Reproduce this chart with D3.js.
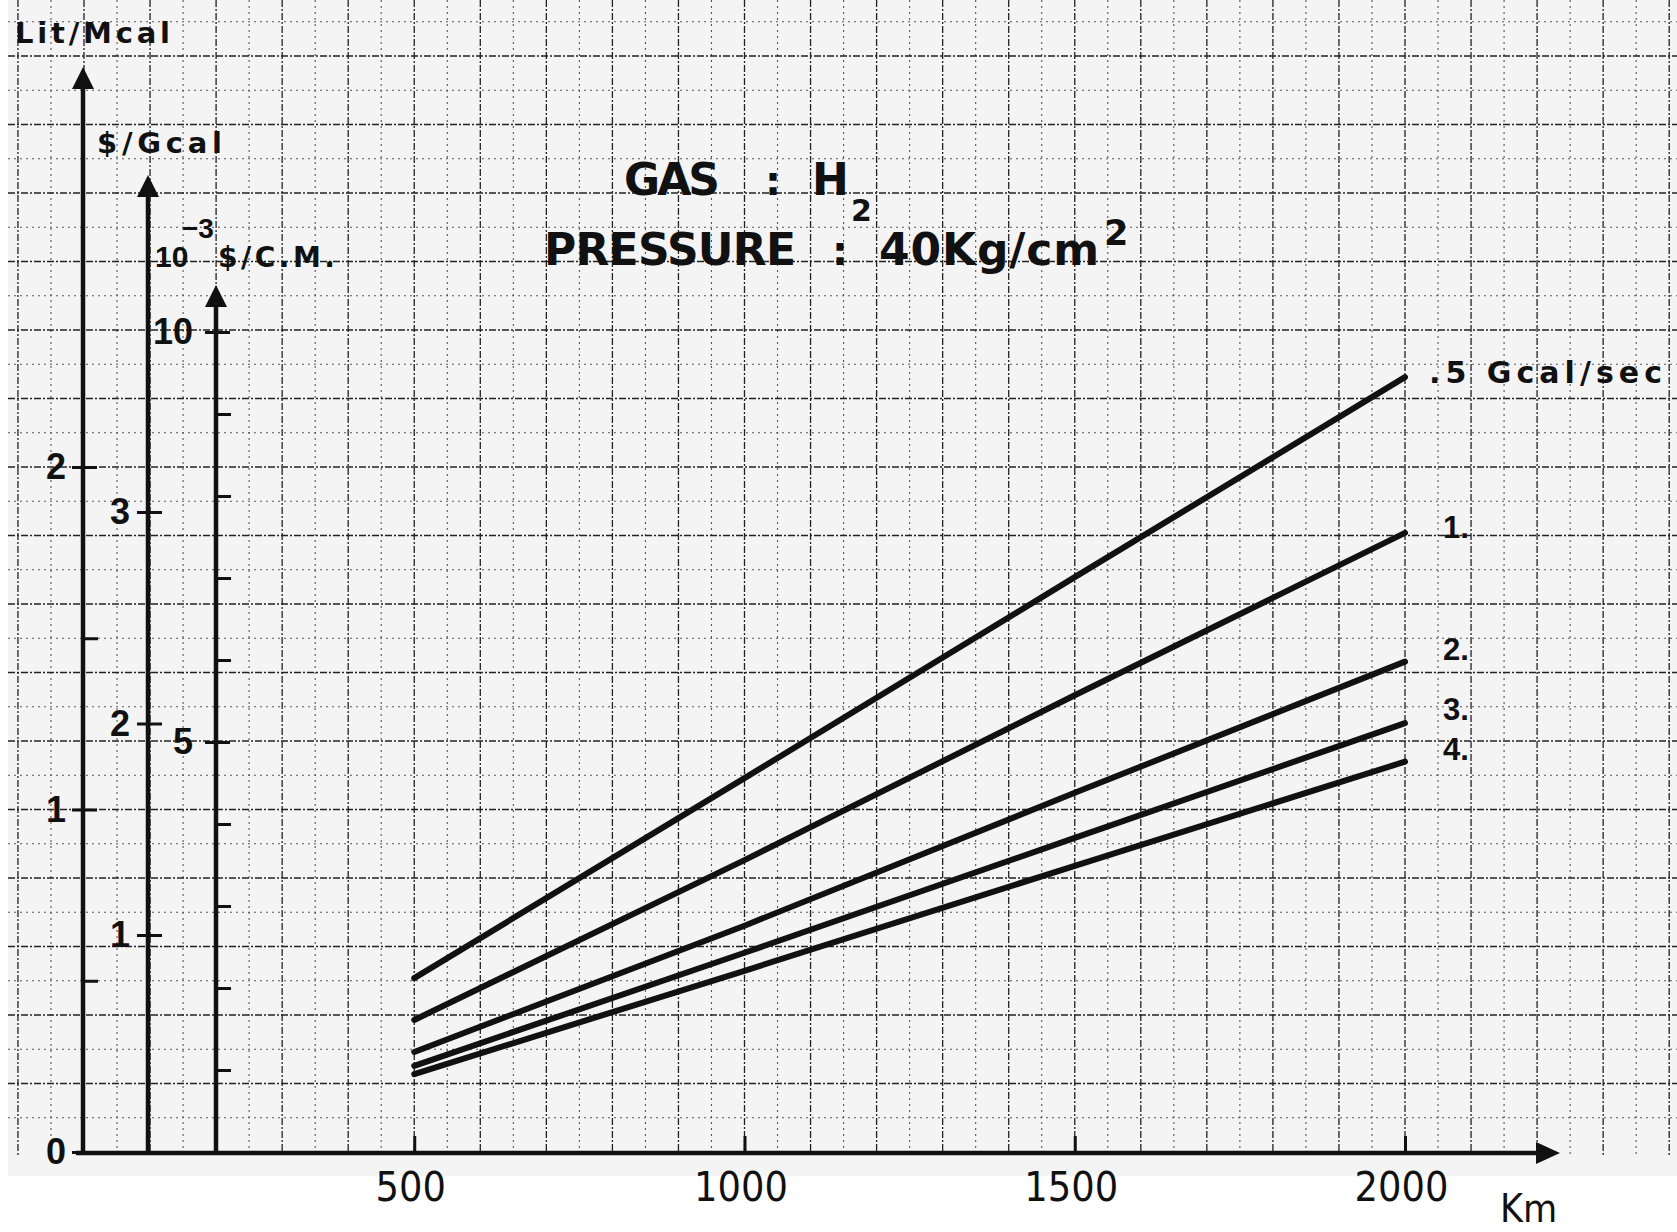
<!DOCTYPE html>
<html>
<head>
<meta charset="utf-8">
<script src="https://cdn.jsdelivr.net/npm/d3@7"></script>
<style>
body { margin: 0; background: #fff; }
svg { display: block; }
text { font-family: "DejaVu Sans", sans-serif; fill: #111; }
</style>
</head>
<body>
<div id="chart"></div>
<script>
// pipeline length, km
var distKm = [500, 1000, 1500, 2000];
// transport cost in 10^-3 $/C.M., one list per flow (Gcal/sec)
var flowNames = [".5 Gcal/sec", "1.", "2.", "3.", "4."];
var cost05 = [2.12, 4.56, 7.01, 9.45];
var cost1 = [1.61, 3.56, 5.57, 7.55];
var cost2 = [1.22, 2.76, 4.38, 5.98];
var cost3 = [1.05, 2.43, 3.83, 5.23];
var cost4 = [0.95, 2.21, 3.49, 4.76];
// tick values
var kmTicks = [500, 1000, 1500, 2000];
var litTicks = [0, 1, 2];
var litHalf = [0.5, 1.5];
var gcalTicks = [1, 2, 3];
var cmTicks = [5, 10];
var cmMinor = [1, 2, 3, 4, 6, 7, 8, 9];

var W = 1677, H = 1232;
var svg = d3.select("#chart").append("svg").attr("width", W).attr("height", H);

// scales
var x = d3.scaleLinear().domain([0, 2000]).range([84, 1405]);
var yLit = d3.scaleLinear().domain([0, 2]).range([1152, 467]);
var yGcal = d3.scaleLinear().domain([1, 3]).range([935, 512]);
var yCM = d3.scaleLinear().domain([0, 10]).range([1152, 332]);

// graph paper background
svg.append("rect").attr("x", 8).attr("y", 0).attr("width", W - 8).attr("height", 1176)
  .attr("fill", "#f4f4f4");

var grid = svg.append("g");
d3.range(-100, 2401, 50).forEach(function(k) {
  var major = k % 100 == 0;
  grid.append("line")
    .attr("x1", x(k)).attr("x2", x(k)).attr("y1", 0).attr("y2", 1156)
    .attr("stroke", major ? "#222" : "#555")
    .attr("stroke-width", major ? 1.3 : 1.1)
    .attr("stroke-dasharray", major ? "7 2 2 2" : "2 4");
});
d3.range(1, 34).forEach(function(i) {
  var v = i / 10;
  var major = i % 2 == 0;
  grid.append("line")
    .attr("x1", 8).attr("x2", W).attr("y1", yLit(v)).attr("y2", yLit(v))
    .attr("stroke", major ? "#222" : "#555")
    .attr("stroke-width", major ? 1.3 : 1.1)
    .attr("stroke-dasharray", major ? "7 2 2 2" : "2 4");
});

// cost curves
var series = [cost05, cost1, cost2, cost3, cost4];
var line = d3.line()
  .x(function(d, i) { return x(distKm[i]); })
  .y(function(d) { return yCM(d); });

svg.append("g").selectAll("path")
  .data(series)
  .enter()
  .append("path")
  .attr("d", line)
  .attr("fill", "none")
  .attr("stroke", "#111")
  .attr("stroke-width", 6)
  .attr("stroke-linecap", "round");

// curve labels
var labelDy = [6, 5, -2, -3, -2];
svg.append("g").selectAll("text")
  .data(series)
  .enter()
  .append("text")
  .attr("x", function(d, i) { return i == 0 ? 1429 : 1443; })
  .attr("y", function(d, i) { return yCM(d[d.length - 1]) + labelDy[i]; })
  .attr("font-size", function(d, i) { return i == 0 ? 30 : 31; })
  .attr("font-weight", "bold")
  .style("font-family", function(d, i) { return i == 0 ? "'DejaVu Sans', sans-serif" : "'Liberation Sans', Arial, sans-serif"; })
  .attr("textLength", function(d, i) { return i == 0 ? 233 : null; })
  .attr("lengthAdjust", "spacing")
  .text(function(d, i) { return flowNames[i]; });

// x axis
var xAxis = svg.append("g").attr("transform", "translate(0,1152)")
  .call(d3.axisBottom(x).tickValues(kmTicks).tickSize(-16).tickFormat(d3.format("d")));
xAxis.select(".domain").remove();
xAxis.selectAll(".tick line").attr("stroke", "#111").attr("stroke-width", 3);
xAxis.selectAll(".tick text")
  .attr("y", 49).attr("dy", null).attr("x", -4)
  .attr("font-size", 41).attr("fill", "#111")
  .style("font-family", "'DejaVu Sans Condensed', 'DejaVu Sans', sans-serif");

svg.append("line").attr("x1", 76).attr("x2", 1540).attr("y1", 1153).attr("y2", 1153)
  .attr("stroke", "#111").attr("stroke-width", 4.5);
svg.append("path").attr("d", "M1536,1142 L1560,1153 L1536,1164 Z").attr("fill", "#111");
svg.append("text").attr("x", 1500).attr("y", 1222).attr("font-size", 39)
  .style("font-family", "'DejaVu Sans Condensed', 'DejaVu Sans', sans-serif").text("Km");

// vertical axes: Lit/Mcal, $/Gcal, 10^-3 $/C.M.
function vAxis(xPos, top, scale, major, minor, pad) {
  var g = svg.append("g").attr("transform", "translate(" + xPos + ",0)");
  var a = g.append("g").call(d3.axisLeft(scale).tickValues(major).tickSize(11).tickPadding(pad)
    .tickFormat(d3.format("d")));
  a.select(".domain").remove();
  a.selectAll(".tick line").attr("x1", 14).attr("x2", -11).attr("stroke", "#111").attr("stroke-width", 3);
  a.selectAll(".tick text").attr("font-size", 36).attr("font-weight", "bold").attr("fill", "#111")
    .style("font-family", "'Liberation Sans', Arial, sans-serif");
  if (minor) {
    var b = g.append("g").call(d3.axisLeft(scale).tickValues(minor).tickSize(0).tickFormat(""));
    b.select(".domain").remove();
    b.selectAll(".tick line").attr("x1", 0).attr("x2", 15).attr("stroke", "#111").attr("stroke-width", 3);
  }
  g.append("line").attr("x1", 0).attr("x2", 0).attr("y1", 1155).attr("y2", top + 18)
    .attr("stroke", "#111").attr("stroke-width", 4.5);
  g.append("path").attr("d", "M-11," + (top + 22) + " L0," + top + " L11," + (top + 22) + " Z")
    .attr("fill", "#111");
}
vAxis(83, 67, yLit, litTicks, litHalf, 6);
vAxis(148, 175, yGcal, gcalTicks, null, 7);
vAxis(216, 285, yCM, cmTicks, cmMinor, 12);

// axis titles
svg.append("text").attr("x", 15).attr("y", 43).attr("font-size", 29).attr("font-weight", "bold")
  .attr("textLength", 155).attr("lengthAdjust", "spacing").text("Lit/Mcal");
svg.append("text").attr("x", 97).attr("y", 153).attr("font-size", 29).attr("font-weight", "bold")
  .attr("textLength", 125).attr("lengthAdjust", "spacing").text("$/Gcal");
svg.append("text").attr("x", 155).attr("y", 267).attr("font-size", 30).attr("font-weight", "bold")
  .style("font-family", "'Liberation Sans', Arial, sans-serif").text("10");
svg.append("text").attr("x", 182).attr("y", 238).attr("font-size", 28).attr("font-weight", "bold")
  .style("font-family", "'Liberation Sans', Arial, sans-serif").text("\u22123");
svg.append("text").attr("x", 218).attr("y", 267).attr("font-size", 28).attr("font-weight", "bold")
  .attr("textLength", 117).attr("lengthAdjust", "spacing").text("$/C.M.");

// title
svg.append("text").attr("x", 624).attr("y", 195).attr("font-size", 44).attr("font-weight", "bold")
  .attr("textLength", 96).attr("lengthAdjust", "spacing").text("GAS");
svg.append("text").attr("x", 765).attr("y", 195).attr("font-size", 40).attr("font-weight", "bold").text(":");
svg.append("text").attr("x", 812).attr("y", 195).attr("font-size", 44).attr("font-weight", "bold").text("H");
svg.append("text").attr("x", 851).attr("y", 221).attr("font-size", 30).attr("font-weight", "bold").text("2");
svg.append("text").attr("x", 544).attr("y", 265).attr("font-size", 44).attr("font-weight", "bold")
  .attr("textLength", 252).attr("lengthAdjust", "spacing").text("PRESSURE");
svg.append("text").attr("x", 832).attr("y", 265).attr("font-size", 40).attr("font-weight", "bold").text(":");
svg.append("text").attr("x", 879).attr("y", 265).attr("font-size", 44).attr("font-weight", "bold")
  .attr("textLength", 220).attr("lengthAdjust", "spacing").text("40Kg/cm");
svg.append("text").attr("x", 1104).attr("y", 245).attr("font-size", 35).attr("font-weight", "bold").text("2");
</script>
</body>
</html>
